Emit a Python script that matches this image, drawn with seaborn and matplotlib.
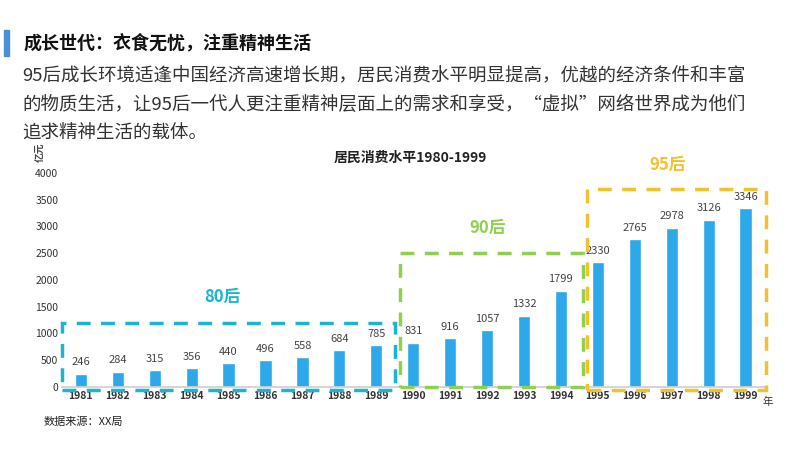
import matplotlib
matplotlib.use("Agg")
import matplotlib.pyplot as plt
import seaborn as sns
import pandas as pd
from matplotlib.patches import Rectangle

years = [str(y) for y in range(1981, 2000)]
values = [246, 284, 315, 356, 440, 496, 558, 684, 785, 831, 916, 1057, 1332, 1799, 2330, 2765, 2978, 3126, 3346]
yticks = [0, 500, 1000, 1500, 2000, 2500, 3000, 3500, 4000]

sns.set_theme(style="white")
plt.rcParams['font.family'] = ['Noto Sans CJK SC', 'DejaVu Sans']

fig = plt.figure(figsize=(8, 4.5), dpi=100)
ax = fig.add_axes([0.078, 0.14, 0.877, 0.4756])
df = pd.DataFrame({"year": years, "v": values})
sns.barplot(data=df, x="year", y="v", color="#2DA8E8", width=0.33, ax=ax, saturation=1)
ax.set_xlim(-0.5, 18.5)
ax.set_ylim(0, 4000)
ax.set_yticks(yticks)
ax.set_yticklabels([str(t) for t in yticks], fontsize=7.5, color="#333333")
ax.set_xticks(range(len(years)))
ax.set_xticklabels(years, fontsize=7.5, fontweight="bold", color="#333333")
ax.tick_params(length=0, pad=3)
ax.set_xlabel(""); ax.set_ylabel("")
for s in ["top", "right", "left"]:
    ax.spines[s].set_visible(False)
ax.spines["bottom"].set_color("#d0d0d0")
for i, v in enumerate(values):
    ax.text(i, v + 120, str(v), ha="center", va="bottom", fontsize=8, color="#444444")

boxes = [(-0.5, -60, 9.0, 1260, "#1AB5D0"), (8.64, 0, 4.96, 2500, "#8FD14F"), (13.7, -60, 4.85, 3760, "#F2C12E")]
for x0, y0, w, h, c in boxes:
    ax.add_patch(Rectangle((x0, y0), w, h, fill=False, ec=c, lw=2.5, ls=(0, (4, 3)), clip_on=False, zorder=5))

fig.text(222/800, 1-297/450, "80后", color="#1AB5D0", fontsize=12, fontweight="bold", ha="center", va="center")
fig.text(488/800, 1-228/450, "90后", color="#8FD14F", fontsize=12, fontweight="bold", ha="center", va="center")
fig.text(668/800, 1-165/450, "95后", color="#F2C12E", fontsize=12, fontweight="bold", ha="center", va="center")
fig.text(410/800, 1-158/450, "居民消费水平1980-1999", fontsize=10, fontweight="bold", ha="center", va="center", color="#222222")
fig.text(40/800, 1-152/450, "亿元", fontsize=7, fontweight="bold", rotation=90, ha="center", va="center", color="#444444")
fig.text(768/800, 1-402/450, "年", fontsize=7.5, ha="center", va="center", color="#333333")
fig.text(44/800, 1-422/450, "数据来源：XX局", fontsize=8, ha="left", va="center", color="#222222")

fig.add_artist(Rectangle((4/800, 1-56/450), 5/800, 26/450, transform=fig.transFigure, color="#4A90D9"))
fig.text(24/800, 1-43/450, "成长世代：衣食无忧，注重精神生活", fontsize=13, fontweight="bold", ha="left", va="center", color="#111111")
body = ["95后成长环境适逢中国经济高速增长期，居民消费水平明显提高，优越的经济条件和丰富",
        "的物质生活，让95后一代人更注重精神层面上的需求和享受，“虚拟”网络世界成为他们",
        "追求精神生活的载体。"]
for k, line in enumerate(body):
    fig.text(22/800, 1-(76+29*k)/450, line, fontsize=13.3, ha="left", va="center", color="#333333")

fig.savefig("out.png", dpi=100)
